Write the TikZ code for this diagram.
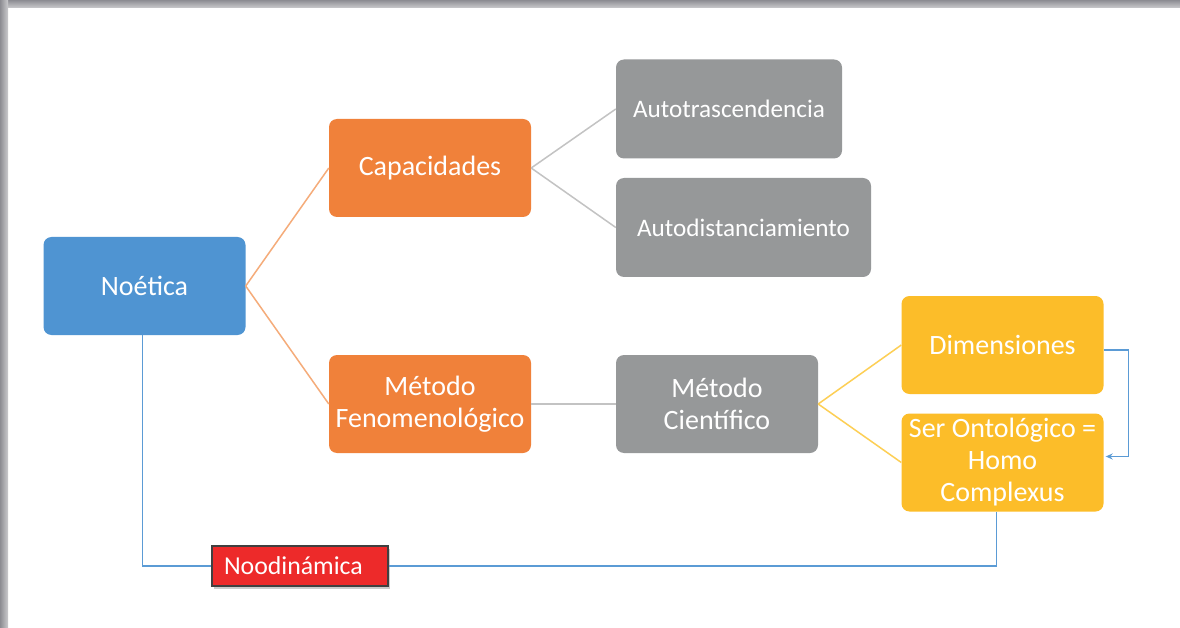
\documentclass[tikz,border=0pt]{standalone}
\usepackage{fontspec}
\setmainfont{Carlito}
\usetikzlibrary{shadows,arrows.meta}
\definecolor{noeblue}{RGB}{79,148,210}
\definecolor{caporange}{RGB}{240,129,58}
\definecolor{autogray}{RGB}{150,152,153}
\definecolor{dimyellow}{RGB}{252,189,41}
\definecolor{noored}{RGB}{237,42,42}
\definecolor{lineorange}{RGB}{245,172,122}
\definecolor{linegray}{RGB}{195,195,195}
\definecolor{lineyellow}{RGB}{253,207,85}
\definecolor{lineblue}{RGB}{91,155,213}
\definecolor{framegray}{RGB}{140,140,146}

\begin{document}
\begin{tikzpicture}[x=1pt,y=-1pt,
		box/.style={rounded corners=8pt,text=white,minimum width=202pt,minimum height=98pt,
			align=center,inner sep=2pt,font=\fontsize{28}{32}\selectfont},
		bluebox/.style={box,fill=noeblue},
		orangebox/.style={box,fill=caporange},
		graybox/.style={box,fill=autogray},
		smallgray/.style={graybox,minimum height=99pt,font=\fontsize{25.2}{30}\selectfont},
		yellowbox/.style={box,fill=dimyellow},
		redbox/.style={fill=noored,draw=black!75,line width=1.2pt,text=white,minimum width=176pt,
			minimum height=40pt,text width=152pt,align=left,inner xsep=11pt,
			font=\fontsize{25.8}{28}\selectfont,drop shadow={shadow xshift=2pt,shadow yshift=-3pt,opacity=0.4}},
		link/.style={line width=1.5pt},
		loop/.style={line width=1.3pt,draw=lineblue}]
		% page and its shadow
		\useasboundingbox (0,0) rectangle (1180,628);
		\fill[white] (0,0) rectangle (1180,628);
		\shade[top color=framegray,bottom color=framegray!45] (0,0) rectangle (1180,8);
		\shade[left color=framegray,right color=framegray!45] (0,0) rectangle (8,628);
		% nodes
		\node[bluebox] (noetica) at (144.5,286) {Noética};
		\node[orangebox] (capacidades) at (430,168) {Capacidades};
		\node[orangebox] (fenomenologico) at (430,404) {Método\\Fenomenológico};
		\node[smallgray,minimum width=226pt] (autotras) at (729,109) {Autotrascendencia};
		\node[smallgray,minimum width=255pt] (autodist) at (743.5,227.5) {Autodistanciamiento};
		\node[graybox] (cientifico) at (717,404) {Método\\Científico};
		\node[yellowbox] (dimensiones) at (1002.5,345) {Dimensiones};
		\node[yellowbox] (ser) at (1002.5,462.5) {Ser Ontológico =\\Homo\\Complexus};
		\node[redbox] (noodinamica) at (300,566) {Noodinámica};
		% connectors
		\draw[link,lineorange] (noetica.east) -- (capacidades.west);
		\draw[link,lineorange] (noetica.east) -- (fenomenologico.west);
		\draw[link,linegray] (capacidades.east) -- (autotras.west);
		\draw[link,linegray] (capacidades.east) -- (autodist.west);
		\draw[link,linegray] (fenomenologico.east) -- (cientifico.west);
		\draw[link,lineyellow] (cientifico.east) -- (dimensiones.west);
		\draw[link,lineyellow] (cientifico.east) -- (ser.west);
		\draw[loop,-{Stealth[length=7pt,width=6pt]}] ([yshift=-5pt]dimensiones.east) -- ++(25,0)
			|- ([xshift=2pt,yshift=6pt]ser.east);
		\draw[loop] ([xshift=-2pt]noetica.south) |- (noodinamica.west);
		\draw[loop] (noodinamica.east) -| ([xshift=-6pt]ser.south);
	\end{tikzpicture}
\end{document}
